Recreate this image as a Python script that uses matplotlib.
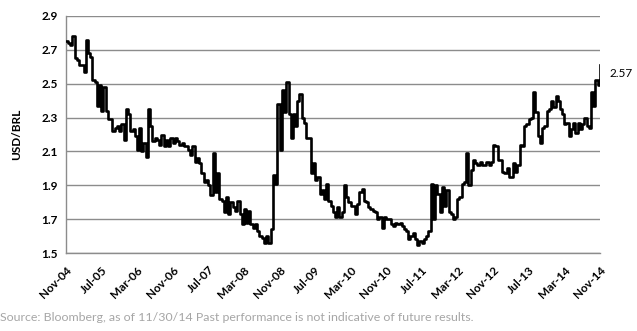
import pandas as pd
import matplotlib.pyplot as plt

rate_2004_2008 = [2.75, 2.74, 2.73, 2.78, 2.65, 2.64, 2.61, 2.61, 2.57, 2.76, 2.68, 2.66,
                  2.52, 2.51, 2.37, 2.49, 2.34, 2.48, 2.34, 2.29, 2.29, 2.22, 2.24, 2.25,
                  2.22, 2.26, 2.17, 2.35, 2.32, 2.22, 2.23, 2.19, 2.11, 2.24, 2.10, 2.15,
                  2.07, 2.35, 2.25, 2.16, 2.18, 2.17, 2.14, 2.20, 2.13, 2.17, 2.13, 2.18,
                  2.15, 2.18, 2.16, 2.14, 2.15, 2.13, 2.13, 2.11, 2.08, 2.13, 2.04, 2.06,
                  2.03, 1.97, 1.92, 1.93, 1.90, 1.84, 2.09, 1.86, 1.97, 1.82, 1.81, 1.74,
                  1.83, 1.73, 1.80, 1.77, 1.75, 1.81, 1.73, 1.67, 1.76, 1.68, 1.75, 1.67]
rate_2008_2011 = [1.65, 1.67, 1.63, 1.60, 1.59, 1.56, 1.60, 1.56, 1.64, 1.96, 1.91, 2.38,
                  2.11, 2.46, 2.33, 2.51, 2.32, 2.18, 2.32, 2.25, 2.40, 2.44, 2.30, 2.27,
                  2.18, 2.18, 1.97, 2.03, 1.93, 1.95, 1.85, 1.87, 1.82, 1.91, 1.81, 1.78,
                  1.74, 1.71, 1.77, 1.71, 1.74, 1.90, 1.83, 1.80, 1.78, 1.78, 1.73, 1.79,
                  1.86, 1.88, 1.81, 1.80, 1.77, 1.76, 1.75, 1.74, 1.70, 1.71, 1.65, 1.71,
                  1.70, 1.70, 1.67, 1.66, 1.68, 1.67, 1.68, 1.66, 1.64, 1.63, 1.58, 1.60,
                  1.62, 1.58, 1.55, 1.57, 1.56, 1.58, 1.60, 1.63]
rate_2011_2014 = [1.91, 1.70, 1.90, 1.85, 1.74, 1.89, 1.78, 1.87, 1.74, 1.73, 1.70, 1.71,
                  1.82, 1.83, 1.91, 1.92, 2.09, 1.90, 1.99, 2.05, 2.03, 2.02, 2.04, 2.02,
                  2.02, 2.04, 2.02, 2.04, 2.14, 2.13, 2.05, 2.05, 1.98, 1.97, 2.00, 1.95,
                  1.95, 2.03, 1.98, 2.02, 2.14, 2.13, 2.25, 2.26, 2.29, 2.30, 2.45, 2.33,
                  2.19, 2.15, 2.24, 2.25, 2.34, 2.35, 2.40, 2.36, 2.43, 2.40, 2.35, 2.32,
                  2.26, 2.27, 2.19, 2.23, 2.27, 2.21, 2.27, 2.23, 2.26, 2.30, 2.25, 2.24,
                  2.45, 2.37, 2.52, 2.49, 2.61]
last_label = '2.57'
y_ticks = [1.5, 1.7, 1.9, 2.1, 2.3, 2.5, 2.7, 2.9]
source_note = 'Source: Bloomberg, as of 11/30/14 Past performance is not indicative of future results.'

rates = rate_2004_2008 + rate_2008_2011 + rate_2011_2014
dates = pd.date_range('2004-11-01', periods=len(rates), freq='SMS')
x_ticks = pd.date_range('2004-11-01', '2014-11-01', freq='8MS')

plt.rcParams['font.family'] = ['Lato', 'DejaVu Sans']

fig = plt.figure(figsize=(6.37, 3.31), dpi=100)
ax = fig.add_axes([0.1036, 0.2356, 0.8383, 0.7161])

ax.plot(dates, rates, color='black', linewidth=1.9, drawstyle='steps-post', zorder=3)

ax.set_ylim(1.5, 2.9)
ax.set_yticks(y_ticks)
ax.set_yticklabels([f'{v:.1f}' for v in y_ticks], fontweight='bold', fontsize=8.5)
ax.set_xlim(dates[0], dates[-1])
ax.set_xticks(x_ticks)
ax.set_xticklabels([d.strftime('%b-%y') for d in x_ticks], rotation=45, ha='right',
                   rotation_mode='anchor', fontweight='bold', fontsize=8.5)
ax.tick_params(length=0, pad=6)
ax.tick_params(axis='x', pad=8)

ax.grid(axis='y', color='#8c8c8c', linewidth=1)
ax.set_axisbelow(True)
for side in ['top', 'right']:
    ax.spines[side].set_visible(False)
for side in ['left', 'bottom']:
    ax.spines[side].set_color('#8c8c8c')
    ax.spines[side].set_linewidth(1)

ax.set_ylabel('USD/BRL', fontweight='bold', fontsize=8.5, labelpad=14)

# label for the last value, just right of the line's end
ax.annotate(last_label, xy=(dates[-1], 2.56), xytext=(7, 0), textcoords='offset points',
            va='center', ha='left', fontsize=8.5)

fig.text(0.0, 0.04, source_note, color='#a6a6a6', fontsize=8.9, va='center', ha='left')

fig.savefig('out.png', dpi=100)
